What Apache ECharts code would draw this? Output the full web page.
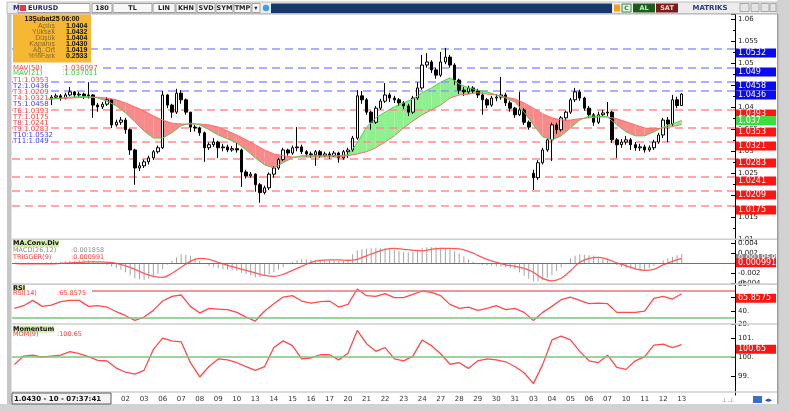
<!DOCTYPE html>
<html><head><meta charset="utf-8">
<script src="https://cdn.jsdelivr.net/npm/echarts/dist/echarts.min.js"></script>
<style>html,body{margin:0;padding:0;background:#fff}#c{width:789px;height:412px}</style>
</head><body><div id="c"></div>
<script>
// ---------- DATA ----------
const days = ['23','24','26','27','30','31','02','03','06','07','08','09','10','13','14','15','16','17','20','21','22','23','24','27','28','29','30','31','03','04','05','06','07','10','11','12','13'];
const hours = ['00','06','12','18'];
const opens = [
1.0396,1.0398,1.0403,1.0407, 1.0405,1.0410,1.0414,1.0417, 1.0419,1.0423,1.0426,1.0421, 1.0428,1.0435,1.0428,1.0430,
1.0426,1.0428,1.0405,1.0401, 1.0407,1.0417,1.0360,1.0366, 1.0371,1.0349,1.0303,1.0262, 1.0267,1.0276,1.0285,1.0299,
1.0308,1.0428,1.0405,1.0389, 1.0432,1.0417,1.0389,1.0355, 1.0353,1.0342,1.0308,1.0315, 1.0321,1.0308,1.0310,1.0303,
1.0306,1.0303,1.0253,1.0244, 1.0248,1.0224,1.0206,1.0217, 1.0248,1.0262,1.0281,1.0303, 1.0296,1.0308,1.0310,1.0299,
1.0294,1.0292,1.0299,1.0290, 1.0294,1.0290,1.0296,1.0285, 1.0299,1.0303,1.0330,1.0426, 1.0417,1.0389,1.0366,1.0398,
1.0414,1.0428,1.0421,1.0417, 1.0410,1.0403,1.0389,1.0421, 1.0444,1.0496,1.0503,1.0485, 1.0473,1.0503,1.0514,1.0496,
1.0462,1.0439,1.0435,1.0444, 1.0437,1.0428,1.0417,1.0405, 1.0421,1.0423,1.0428,1.0410, 1.0398,1.0383,1.0394,1.0366,
1.0250,1.0240,1.0274,1.0303, 1.0326,1.0360,1.0349,1.0376, 1.0389,1.0417,1.0435,1.0421, 1.0398,1.0383,1.0366,1.0383,
1.0387,1.0389,1.0326,1.0315, 1.0321,1.0326,1.0315,1.0308, 1.0310,1.0303,1.0308,1.0321, 1.0337,1.0371,1.0362,1.0417,
1.0404];
const closes = [
1.0398,1.0403,1.0407,1.0405, 1.0410,1.0414,1.0417,1.0419, 1.0423,1.0426,1.0421,1.0428, 1.0435,1.0428,1.0430,1.0426,
1.0428,1.0405,1.0401,1.0407, 1.0417,1.0360,1.0366,1.0371, 1.0349,1.0303,1.0262,1.0267, 1.0276,1.0285,1.0299,1.0308,
1.0428,1.0405,1.0389,1.0432, 1.0417,1.0389,1.0355,1.0353, 1.0342,1.0308,1.0315,1.0321, 1.0308,1.0310,1.0303,1.0306,
1.0303,1.0253,1.0244,1.0248, 1.0224,1.0206,1.0217,1.0248, 1.0262,1.0281,1.0303,1.0296, 1.0308,1.0310,1.0299,1.0294,
1.0292,1.0299,1.0290,1.0294, 1.0290,1.0296,1.0285,1.0299, 1.0303,1.0330,1.0426,1.0417, 1.0389,1.0366,1.0398,1.0414,
1.0428,1.0421,1.0417,1.0410, 1.0403,1.0389,1.0421,1.0444, 1.0496,1.0503,1.0485,1.0473, 1.0503,1.0514,1.0496,1.0462,
1.0439,1.0435,1.0444,1.0437, 1.0428,1.0417,1.0405,1.0421, 1.0423,1.0428,1.0410,1.0398, 1.0383,1.0394,1.0366,1.0355,
1.0240,1.0274,1.0303,1.0326, 1.0360,1.0349,1.0376,1.0389, 1.0417,1.0435,1.0421,1.0398, 1.0383,1.0366,1.0383,1.0387,
1.0389,1.0326,1.0315,1.0321, 1.0326,1.0315,1.0308,1.0310, 1.0303,1.0308,1.0321,1.0337, 1.0371,1.0362,1.0417,1.0404,
1.0430];
const lows = [
1.0390,1.0395,1.0400,1.0400, 1.0402,1.0407,1.0410,1.0413, 1.0405,1.0419,1.0415,1.0418, 1.0425,1.0422,1.0423,1.0419,
1.0420,1.0376,1.0390,1.0396, 1.0403,1.0353,1.0356,1.0360, 1.0340,1.0292,1.0224,1.0255, 1.0262,1.0270,1.0280,1.0295,
1.0305,1.0398,1.0376,1.0385, 1.0408,1.0383,1.0344,1.0345, 1.0335,1.0276,1.0303,1.0310, 1.0285,1.0300,1.0298,1.0299,
1.0297,1.0219,1.0238,1.0240, 1.0208,1.0183,1.0202,1.0212, 1.0240,1.0258,1.0278,1.0290, 1.0292,1.0300,1.0294,1.0287,
1.0285,1.0267,1.0285,1.0287, 1.0283,1.0287,1.0274,1.0281, 1.0285,1.0299,1.0326,1.0408, 1.0383,1.0349,1.0362,1.0394,
1.0410,1.0412,1.0410,1.0403, 1.0396,1.0380,1.0385,1.0417, 1.0440,1.0490,1.0478,1.0465, 1.0469,1.0498,1.0490,1.0451,
1.0430,1.0426,1.0430,1.0430, 1.0421,1.0383,1.0398,1.0401, 1.0414,1.0417,1.0403,1.0390, 1.0376,1.0380,1.0360,1.0349,
1.0212,1.0235,1.0270,1.0299, 1.0278,1.0340,1.0345,1.0370, 1.0385,1.0412,1.0415,1.0392, 1.0376,1.0358,1.0362,1.0378,
1.0380,1.0319,1.0285,1.0308, 1.0315,1.0303,1.0301,1.0301, 1.0297,1.0299,1.0303,1.0317, 1.0330,1.0321,1.0358,1.0398,
1.0404];
const highs = [
1.0405,1.0408,1.0412,1.0410, 1.0414,1.0418,1.0422,1.0424, 1.0428,1.0431,1.0430,1.0433, 1.0446,1.0437,1.0435,1.0433,
1.0457,1.0430,1.0410,1.0412, 1.0423,1.0419,1.0372,1.0378, 1.0376,1.0352,1.0306,1.0275, 1.0281,1.0290,1.0303,1.0313,
1.0437,1.0430,1.0408,1.0442, 1.0439,1.0420,1.0389,1.0360, 1.0356,1.0345,1.0320,1.0330, 1.0324,1.0317,1.0315,1.0312,
1.0319,1.0306,1.0258,1.0253, 1.0250,1.0228,1.0222,1.0252, 1.0266,1.0285,1.0308,1.0306, 1.0313,1.0355,1.0315,1.0303,
1.0299,1.0303,1.0303,1.0299, 1.0299,1.0301,1.0299,1.0303, 1.0308,1.0335,1.0439,1.0437, 1.0421,1.0392,1.0403,1.0419,
1.0455,1.0433,1.0426,1.0421, 1.0414,1.0408,1.0426,1.0457, 1.0519,1.0523,1.0507,1.0490, 1.0526,1.0535,1.0519,1.0500,
1.0465,1.0446,1.0449,1.0448, 1.0442,1.0433,1.0421,1.0426, 1.0430,1.0469,1.0433,1.0415, 1.0401,1.0435,1.0398,1.0370,
1.0258,1.0280,1.0308,1.0330, 1.0365,1.0365,1.0380,1.0392, 1.0421,1.0444,1.0440,1.0424, 1.0403,1.0387,1.0390,1.0394,
1.0412,1.0392,1.0330,1.0328, 1.0335,1.0330,1.0321,1.0317, 1.0315,1.0313,1.0326,1.0342, 1.0376,1.0378,1.0428,1.0424,
1.0432];
// moving averages, one value every 2 bars
const ma50 = [1.0412,1.0414,1.0417,1.0418,1.0419,1.0420,1.0421,1.0422,1.0423,1.0423,
1.0421,1.0417,1.0410,1.0401,1.0392,1.0380,1.0371,1.0364,1.0362,1.0362,
1.0362,1.0360,1.0355,1.0346,1.0337,1.0326,1.0315,1.0303,1.0294,1.0290,
1.0287,1.0287,1.0287,1.0287,1.0287,1.0287,1.0290,1.0294,1.0299,1.0308,
1.0321,1.0335,1.0353,1.0369,1.0383,1.0394,1.0405,1.0421,1.0428,1.0430,
1.0433,1.0430,1.0428,1.0423,1.0419,1.0410,1.0398,1.0385,1.0376,1.0371,
1.0371,1.0374,1.0376,1.0378,1.0378,1.0374,1.0367,1.0360,1.0353,1.0351,
1.0353,1.0356,1.036097];
const ma21 = [1.0410,1.0412,1.0414,1.0417,1.0419,1.0421,1.0423,1.0424,1.0424,1.0421,
1.0414,1.0403,1.0387,1.0367,1.0346,1.0330,1.0330,1.0342,1.0358,1.0364,
1.0360,1.0349,1.0337,1.0328,1.0319,1.0303,1.0285,1.0269,1.0262,1.0274,
1.0285,1.0290,1.0290,1.0290,1.0290,1.0290,1.0292,1.0319,1.0355,1.0376,
1.0389,1.0401,1.0410,1.0419,1.0433,1.0444,1.0457,1.0467,1.0453,1.0444,
1.0439,1.0435,1.0428,1.0421,1.0412,1.0389,1.0360,1.0333,1.0326,1.0335,
1.0353,1.0371,1.0380,1.0380,1.0378,1.0360,1.0344,1.0335,1.0335,1.0344,
1.0355,1.0362,1.037011];
// MACD per bar
const macd = [
0.0000,0.0001,0.0001,0.0001,0.0001,0.0001,0.0001,0.0002,0.0002,0.0002,
0.0003,0.0004,0.0005,0.0005,0.0006,0.0006,0.0006,0.0005,0.0002,0.0000,
-0.0004,-0.0007,-0.0010,-0.0013,-0.0018,-0.0024,-0.0030,-0.0032,-0.0033,-0.0031,
-0.0028,-0.0021,-0.0012,-0.0003,0.0005,0.0012,0.0018,0.0017,0.0015,0.0010,
0.0005,0.0000,-0.0005,-0.0008,-0.0010,-0.0012,-0.0013,-0.0014,-0.0015,-0.0019,
-0.0022,-0.0025,-0.0028,-0.0028,-0.0026,-0.0022,-0.0018,-0.0013,-0.0008,-0.0002,
0.0003,0.0006,0.0008,0.0008,0.0007,0.0006,0.0006,0.0006,0.0006,0.0005,
0.0005,0.0005,0.0008,0.0018,0.0026,0.0028,0.0029,0.0030,0.0030,0.0030,
0.0030,0.0029,0.0027,0.0024,0.0022,0.0022,0.0023,0.0027,0.0030,0.0032,
0.0032,0.0032,0.0031,0.0030,0.0028,0.0024,0.0020,0.0014,0.0008,0.0003,
-0.0002,-0.0003,-0.0004,-0.0005,-0.0006,-0.0007,-0.0008,-0.0010,-0.0012,-0.0018,
-0.0025,-0.0031,-0.0036,-0.0036,-0.0034,-0.0029,-0.0024,-0.0016,-0.0008,0.0001,
0.0010,0.0015,0.0018,0.0017,0.0016,0.0015,0.0013,0.0010,0.0006,0.0001,
-0.0004,-0.0007,-0.0010,-0.0012,-0.0013,-0.0014,-0.0014,-0.0010,-0.0005,0.0000,
0.0006,0.0010,0.0013,0.0016,0.001858];
// one value every 2 bars
const trigger = [0.0000,-0.0001,-0.0001,-0.0001,-0.0001,0.0000,0.0001,0.0002,0.0003,0.0003,
0.0002,0.0000,-0.0005,-0.0012,-0.0020,-0.0026,-0.0028,-0.0020,-0.0008,0.0004,
0.0010,0.0008,0.0002,-0.0004,-0.0009,-0.0014,-0.0019,-0.0024,-0.0026,-0.0022,
-0.0014,-0.0006,0.0002,0.0006,0.0007,0.0007,0.0006,0.0008,0.0015,0.0022,
0.0028,0.0030,0.0028,0.0026,0.0025,0.0028,0.0030,0.0030,0.0029,0.0024,
0.0016,0.0008,0.0002,-0.0003,-0.0006,-0.0010,-0.0018,-0.0030,-0.0035,-0.0030,
-0.0015,0.0002,0.0010,0.0012,0.0008,0.0001,-0.0005,-0.0011,-0.0014,-0.0012,
-0.0003,0.0004,0.000991];
const rsi = [44,48,56,47,49,54,56,56,47,48, 46,39,33,26,31,41,55,62,64,47,
37,44,43,42,38,31,25,40,51,61, 63,55,52,54,55,46,50,73,63,62,
66,60,60,65,70,68,63,50,44,46, 41,44,48,42,44,38,26,38,47,57,
61,56,51,52,51,38,38,38,40,59, 62,58,65.8575];
const mom = [99.6,100.05,100.1,100.0,100.05,100.1,100.28,100.18,100.02,99.82,
99.79,99.42,99.2,99.1,99.3,100.4,101.0,100.85,100.8,99.7,
98.95,99.5,99.9,99.85,99.7,99.5,99.3,99.5,100.5,100.85,
100.6,99.9,99.95,100.12,100.12,99.85,100.2,101.4,100.7,100.3,
100.5,99.9,99.8,100.05,100.9,100.6,100.17,99.62,99.7,99.4,
99.8,99.9,99.85,99.75,99.5,99.17,98.6,99.6,100.9,101.1,
100.9,100.3,99.8,99.7,100.1,99.45,99.35,99.8,100.02,100.63,
100.68,100.5,100.65];
const levels = [1.0353,1.0436,1.0209,1.0321,1.0458,1.0393,1.0175,1.0241,1.0283,1.0532,1.049];
const info = {title:'13Şubat25 06:00', rows:[['Açılış','1.0404'],['Yüksek','1.0432'],['Düşük','1.0404'],['Kapanış','1.0430'],['Ağ. Ort','1.0419'],['%%Fark','0.2533']]};
const statusText = '1.0430 - 10 - 07:37:41';

// ---------- BUILD ----------
const cats = [];
days.forEach((d,di)=>{const n = di===days.length-1?1:4; for(let k=0;k<n;k++) cats.push(cats.length+'|'+d+'|'+hours[k]);});
for(let k=0;k<11;k++) cats.push(cats.length+'|pad|');
const candles = opens.map((o,i)=>[o,closes[i],lows[i],highs[i]]);
const lastClose = closes[closes.length-1];
const toPts = a => a.map((v,j)=>[2*j,v]);
const band = [];
for(let j=0;j<ma50.length-1;j++) band.push([2*j,ma50[j],ma21[j],2*j+2,ma50[j+1],ma21[j+1]]);
const last = a => a[a.length-1];

const FONT='DejaVu Sans';
const boxLabel = (txt,bg,dy)=>({show:true,position:'end',distance:1,formatter:txt,color:'#fff',backgroundColor:bg,
  fontSize:8,fontFamily:FONT,width:38,height:9,lineHeight:9,padding:[0,0,0,2],offset:[0,dy]});
const hidden = {lineStyle:{color:'rgba(0,0,0,0)',width:0}};
const ML = (data,ls) => ({silent:true,symbol:['none','none'],animation:false,precision:8,data,lineStyle:ls||{}});

const fmtDay = v => { const p=v.split('|'); return p[2]==='00'?p[1]:''; };
const L=12, R=54;
const grids = [
  {left:L,right:R,top:14,height:225.3},
  {left:L,right:R,top:240,height:43.3},
  {left:L,right:R,top:284,height:40.4},
  {left:L,right:R,top:324,height:71}
];
const xAxes = grids.map((g,i)=>({type:'category',gridIndex:i,data:cats,boundaryGap:true,
  axisLine:{show:false},axisTick:{show:false},splitLine:{show:false},
  axisLabel:{show:i===3,interval:0,formatter:fmtDay,fontSize:7,fontFamily:FONT,color:'#333',margin:1}}));
const yBase = (i,extra)=>Object.assign({type:'value',gridIndex:i,position:'right',
  axisLine:{show:true,lineStyle:{color:'#000',width:1}},
  axisTick:{show:true,inside:true,length:4,lineStyle:{color:'#000'}},
  splitLine:{show:false}},extra);
const lblBase = {fontSize:7,fontFamily:FONT,color:'#222',margin:3,showMaxLabel:false};
const yAxes = [
  yBase(0,{min:1.01,max:1.0612,interval:0.005,minorTick:{show:true,splitNumber:2,length:2,lineStyle:{color:'#000'}},axisLabel:Object.assign({},lblBase)}),
  yBase(1,{min:-0.004,max:0.00466,interval:0.002,axisLabel:Object.assign({},lblBase)}),
  yBase(2,{min:20,max:80.5,interval:20,axisLabel:Object.assign({},lblBase,{formatter:v=>v+'.'})}),
  yBase(3,{min:98,max:101.74,interval:1,axisLabel:Object.assign({},lblBase,{formatter:v=>v+'.',showMinLabel:false})})
];

const UP='#8ef08e', DN='#f98a8a';
const series = [
 {type:'custom',xAxisIndex:0,yAxisIndex:0,z:1,silent:true,data:band,encode:{x:[0,3],y:[1,2,4,5]},
  renderItem:(params,api)=>{
    const a0=api.coord([api.value(0),api.value(1)]), b0=api.coord([api.value(0),api.value(2)]);
    const a1=api.coord([api.value(3),api.value(4)]), b1=api.coord([api.value(3),api.value(5)]);
    const d0=api.value(2)-api.value(1), d1=api.value(5)-api.value(4);
    if(d0*d1>=0){
      return {type:'polygon',shape:{points:[a0,a1,b1,b0]},style:{fill:(d0+d1)>=0?UP:DN}};
    }
    const t=d0/(d0-d1);
    const m=[a0[0]+(a1[0]-a0[0])*t, a0[1]+(a1[1]-a0[1])*t];
    return {type:'group',children:[
      {type:'polygon',shape:{points:[a0,m,b0]},style:{fill:d0>0?UP:DN}},
      {type:'polygon',shape:{points:[m,a1,b1]},style:{fill:d1>0?UP:DN}}]};
  }},
 // target levels: dashed line + value box
 {type:'custom',xAxisIndex:0,yAxisIndex:0,z:1.5,silent:true,clip:false,
  data:levels.map(v=>[0,v]),encode:{x:0,y:1},
  renderItem:(params,api)=>{
    const v=api.value(1), cs=params.coordSys;
    const y=Math.round(api.coord([0,v])[1]);
    const above = v>lastClose;
    return {type:'group',children:[
      {type:'line',shape:{x1:cs.x,y1:y,x2:cs.x+cs.width,y2:y},
       style:{stroke:above?'#9494ff':'#ff8c8c',lineWidth:1.6,lineDash:[8,5]}},
      {type:'rect',shape:{x:cs.x+cs.width+1,y:y-0.5,width:40,height:9},style:{fill:above?'#0a0aee':'#ff1414'}},
      {type:'text',x:cs.x+cs.width+3,y:y+4,style:{text:String(v),fill:'#fff',font:'8px "DejaVu Sans"',verticalAlign:'middle',align:'left'}}
    ]};
  }},
 {type:'candlestick',xAxisIndex:0,yAxisIndex:0,z:2,data:candles,barWidth:3,
  itemStyle:{color:'#ffffff',color0:'#000000',borderColor:'#000000',borderColor0:'#000000',borderWidth:1}},
 {type:'line',xAxisIndex:0,yAxisIndex:0,z:3,data:toPts(ma50),showSymbol:false,silent:true,
  lineStyle:{color:'#ff6a6a',width:1}},
 {type:'line',xAxisIndex:0,yAxisIndex:0,z:6,data:toPts(ma21),showSymbol:false,silent:true,
  lineStyle:{color:'#55cc55',width:1},
  markLine:ML([Object.assign({yAxis:last(ma21),label:boxLabel(String(+last(ma21).toFixed(4)),'#3fdc3f',0)},hidden)])},
 {type:'bar',xAxisIndex:1,yAxisIndex:1,data:macd,barWidth:1,silent:true,itemStyle:{color:'#a4a4a4'},
  markLine:ML([{yAxis:0,lineStyle:{color:'#d04a4a',type:'solid',width:1},label:{show:false}},
         Object.assign({yAxis:last(macd),label:boxLabel(String(last(macd)),'#8a8a8a',4.5)},hidden)])},
 {type:'line',xAxisIndex:1,yAxisIndex:1,data:toPts(trigger),showSymbol:false,smooth:0.4,silent:true,
  lineStyle:{color:'#ff5a5a',width:1.3},
  markLine:ML([Object.assign({yAxis:last(trigger),label:boxLabel(String(last(trigger)),'#ff1414',4.5)},hidden)])},
 {type:'line',xAxisIndex:2,yAxisIndex:2,data:toPts(rsi),showSymbol:false,silent:true,
  lineStyle:{color:'#ff4a4a',width:1.3},
  markLine:ML([{yAxis:70,lineStyle:{color:'#e07878',type:'solid',width:1.5},label:{show:false}},
         {yAxis:30,lineStyle:{color:'#7cc47c',type:'solid',width:1.5},label:{show:false}},
         Object.assign({yAxis:last(rsi),label:boxLabel(String(last(rsi)),'#ff1414',4.5)},hidden)])},
 {type:'line',xAxisIndex:3,yAxisIndex:3,data:toPts(mom),showSymbol:false,silent:true,
  lineStyle:{color:'#ff4a4a',width:1.3},
  markLine:ML([{yAxis:100,lineStyle:{color:'#7cc47c',type:'solid',width:1.5},label:{show:false}},
         Object.assign({yAxis:last(mom),label:boxLabel(String(last(mom)),'#ff1414',4.5)},hidden)])}
];

// ---------- CHROME / TEXT ----------
const G=[];
const rect=(x,y,w,h,fill,stroke,z)=>G.push({type:'rect',silent:true,z:z||50,shape:{x,y,width:w,height:h},style:{fill,stroke:stroke||null,lineWidth:stroke?1:0}});
const text=(x,y,t,font,fill,extra,z)=>G.push({type:'text',silent:true,z:z||60,x,y,style:Object.assign({text:t,font,fill,verticalAlign:'middle',align:'left'},extra||{})});
const F=(s,b)=>(b?'bold ':'')+s+'px "'+FONT+'"';
const FL=(s,b)=>(b?'bold ':'')+s+'px "Liberation Sans"';

// frames
rect(0,404,789,8,'#d2d2d2',null,70);
rect(777,0,12,412,'#d2d2d2',null,70);
rect(777,14,1.5,390,'#9c9c9c',null,71);
rect(7,14,4.5,390,'#c6c6c6',null,70);
rect(12,13.5,765,1,'#b4b4b4',null,70);
// separators
[238.5,283.3,323.2,391.2].forEach(y=>rect(12,y,765,1.6,'#cfcfcf',null,70));
// toolbar
rect(7,2,770,11.5,'#ececec','#bdbdbd',70);
text(13,8.2,'M',F(7,true),'#1b2d78',{},72);
rect(18,3.5,72,9,'#ffffff','#a0a0a0',71);
rect(20,5,6,6,'#e03a3a',null,72);
text(28,8.2,'EURUSD',F(6.5,true),'#1b1b60',{},72);
[[92,20,'180'],[113,39,'TL'],[153,22,'LIN'],[176,20,'KHN'],[197,18,'SVD'],[216,17,'SYM'],[234,17,'TMP'],[252,8,'▾']].forEach(b=>{
  rect(b[0],3.5,b[1],9,'#f7f7f7','#a0a0a0',71);
  text(b[0]+b[1]/2,8.2,b[2],F(6.5,true),'#222',{align:'center'},72);
});
G.push({type:'circle',silent:true,z:72,shape:{cx:266,cy:8,r:3.2},style:{fill:'#3aa0e8'}});
rect(271,3.5,341,9.5,'#17386b',null,71);
rect(614,4.5,6,7,'#f0a020',null,72);
rect(622,4,9,8,'#e8f4e8','#3a8a3a',72);
text(626.5,8.2,'C',F(6,true),'#2a7a2a',{align:'center'},73);
rect(633,3.5,22,9,'#1d5c1d',null,72);
text(644,8.2,'AL',F(6.5,true),'#b9f5b9',{align:'center'},73);
rect(656,3.5,22,9,'#7c1a1a',null,72);
text(667,8.2,'SAT',F(6.5,true),'#ffd2d2',{align:'center'},73);
text(710,8.2,'MATRIKS',F(7,true),'#2a3a7a',{align:'center'},72);
[[740,9],[751,8],[761,8],[770,6]].forEach(b=>rect(b[0],3.5,b[1],8,'#e4e4e4','#a8a8a8',72));
// bottom status
rect(12,393,99,11,'#f3f3f3','#5a5a5a',72);
text(14,398.7,statusText,F(7,true),'#111',{},73);
text(722,400,'⊥.⊥',F(6),'#777',{},73);
rect(753,396,9,7,'#3b6fc6',null,73);
text(765,400,'◂▸',F(7,true),'#2040c0',{},73);

// info box
rect(13,14.5,78,48,'#f6b733',null,75);
text(52,19.5,info.title,FL(7,true),'#111',{align:'center'},76);
info.rows.forEach((r,k)=>{
  text(55,25.6+k*6.02,r[0],FL(7),'#8a6a28',{align:'right'},76);
  text(66,25.6+k*6.02,r[1],FL(7,true),'#111',{},76);
});

// main legend
const RED='#ff3c3c', BLUE='#3c3cff', GREEN='#3ec83e';
rect(12,64.5,88,12,'#ffffff',null,58);
text(13,67.7,'MAV(50)',F(7),RED); text(62,67.7,':'+last(ma50),F(7),RED);
text(13,73.5,'MAV(21)',F(7),GREEN); text(62,73.5,':'+last(ma21),F(7),GREEN);
levels.forEach((v,k)=>{
  text(13,80+k*6.15,'T'+(k+1)+':'+v,F(7),v>lastClose?BLUE:RED,{backgroundColor:'#fff'});
});

// sub panel legends
const TB='#d3ebaa';
text(13,243.8,'MA.Conv.Div',F(6.5,true),'#111',{backgroundColor:TB});
text(13,250.6,'MACD(26,12)',F(6.5),'#8c8c8c'); text(71,250.6,':'+last(macd),F(6.5),'#8c8c8c');
text(13,257,'TRIGGER(9)',F(6.5),RED); text(71,257,':'+last(trigger),F(6.5),RED);
text(13,288,'RSI',F(6.5,true),'#111',{backgroundColor:TB});
rect(12,290,80,6,'#fff',null,58);
text(13,293.4,'RSI(14)',F(6.5),RED); text(57,293.4,':'+last(rsi),F(6.5),RED);
text(13,329.2,'Momentum',F(6.5,true),'#111',{backgroundColor:TB});
text(13,334.6,'MOM(9)',F(6.5),RED); text(57,334.6,':'+last(mom),F(6.5),RED);

const chart = echarts.init(document.getElementById('c'),null,{renderer:'canvas'});
chart.setOption({backgroundColor:'#ffffff',animation:false,grid:grids,xAxis:xAxes,yAxis:yAxes,series,graphic:{elements:G}});
</script></body></html>
